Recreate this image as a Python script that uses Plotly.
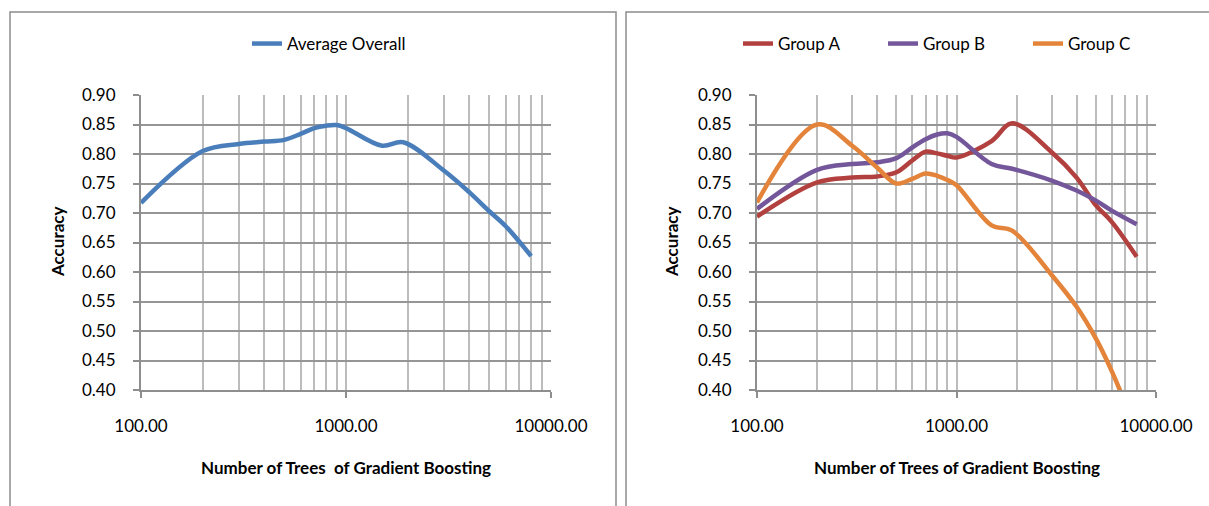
import plotly.graph_objects as go

# ---- data ----
n_trees = [100, 200, 300, 400, 500, 600, 700, 800, 900, 1000, 1500, 1900, 3000, 4000, 5000, 6000, 8000]
avg_overall = [0.717, 0.805, 0.817, 0.821, 0.824, 0.834, 0.844, 0.848, 0.849, 0.844, 0.814, 0.820, 0.772, 0.735, 0.703, 0.678, 0.627]
group_a = [0.694, 0.752, 0.760, 0.762, 0.769, 0.789, 0.804, 0.801, 0.797, 0.794, 0.822, 0.852, 0.803, 0.760, 0.713, 0.685, 0.626]
group_b = [0.707, 0.773, 0.783, 0.786, 0.793, 0.811, 0.825, 0.833, 0.835, 0.829, 0.783, 0.775, 0.755, 0.738, 0.721, 0.704, 0.681]
group_c = [0.718, 0.850, 0.814, 0.777, 0.750, 0.758, 0.767, 0.763, 0.756, 0.747, 0.679, 0.670, 0.595, 0.541, 0.487, 0.432, 0.330]

x_tickvals = [100, 1000, 10000]
x_ticktext = ["100.00", "1000.00", "10000.00"]
minor_vals = [v * d for d in (100, 1000) for v in range(2, 10)]

FONT = "Lato"
FS = 17
W, H = 1209, 506
C_AVG = "#4A7EBB"
C_A = "#B2403E"
C_B = "#74579A"
C_C = "#E3843A"

fig = go.Figure()

def add(y, name, color, xa, ya, legend):
    fig.add_trace(go.Scatter(
        x=n_trees, y=y, name=name, mode="lines",
        line=dict(color=color, width=4.5, shape="spline", smoothing=1.0),
        xaxis=xa, yaxis=ya, legend=legend,
    ))

add(avg_overall, "Average Overall", C_AVG, "x", "y", "legend")
add(group_a, "Group A", C_A, "x2", "y2", "legend2")
add(group_b, "Group B", C_B, "x2", "y2", "legend2")
add(group_c, "Group C", C_C, "x2", "y2", "legend2")

def px_x(p):
    return p / W

def px_y(p):
    return 1 - p / H

xaxis_common = dict(
    type="log", range=[2, 4], automargin=False,
    tickmode="array", tickvals=x_tickvals, ticktext=x_ticktext,
    showgrid=True, gridcolor="#bcbcbc", gridwidth=2,
    minor=dict(tickmode="array", tickvals=minor_vals, showgrid=True,
               gridcolor="#bcbcbc", gridwidth=2, ticks=""),
    showline=True, linecolor="#8e8e8e", linewidth=2,
    ticks="outside", ticklen=6, tickcolor="#8e8e8e", tickwidth=2,
    ticklabelstandoff=14,
    tickfont=dict(family=FONT, size=FS, color="#000000"),
    zeroline=False, fixedrange=True,
)
yaxis_common = dict(
    range=[0.40, 0.90], automargin=False,
    tickmode="linear", tick0=0.40, dtick=0.05, tickformat=".2f",
    showgrid=True, gridcolor="#969696", gridwidth=2,
    showline=True, linecolor="#8e8e8e", linewidth=2,
    ticks="outside", ticklen=6, tickcolor="#8e8e8e", tickwidth=2,
    ticklabelstandoff=14,
    tickfont=dict(family=FONT, size=FS, color="#000000"),
    zeroline=False, fixedrange=True,
)

y_dom = [px_y(390), px_y(95)]

fig.update_layout(
    width=W, height=H,
    margin=dict(l=0, r=0, t=0, b=0, autoexpand=False),
    paper_bgcolor="white", plot_bgcolor="white",
    font=dict(family=FONT, size=FS, color="#000000"),
    xaxis=dict(domain=[px_x(141), px_x(551)], anchor="y", **xaxis_common),
    yaxis=dict(domain=y_dom, anchor="x", **yaxis_common),
    xaxis2=dict(domain=[px_x(757), px_x(1156)], anchor="y2", **xaxis_common),
    yaxis2=dict(domain=y_dom, anchor="x2", **yaxis_common),
    legend=dict(orientation="h", x=px_x(247), xanchor="left", y=px_y(44), yanchor="middle",
                font=dict(family=FONT, size=FS, color="#000000"), bgcolor="rgba(0,0,0,0)"),
    legend2=dict(orientation="h", x=px_x(738), xanchor="left", y=px_y(44), yanchor="middle",
                 entrywidth=100, entrywidthmode="pixels",
                 font=dict(family=FONT, size=FS, color="#000000"), bgcolor="rgba(0,0,0,0)"),
    showlegend=True,
)

# panel borders (open at the cut-off sides)
border = dict(color="#8c8c8c", width=1.5)
fig.add_shape(type="path", xref="paper", yref="paper",
              path="M %f,0 L %f,%f L %f,%f L %f,0" % (px_x(10), px_x(10), px_y(12), px_x(616), px_y(12), px_x(616)),
              line=border)
fig.add_shape(type="path", xref="paper", yref="paper",
              path="M %f,0 L %f,%f L 1,%f" % (px_x(626), px_x(626), px_y(12), px_y(12)),
              line=border)

# axis titles
for cx, text in [(346, "Number of Trees  of Gradient Boosting"), (957, "Number of Trees of Gradient Boosting")]:
    fig.add_annotation(xref="paper", yref="paper", x=px_x(cx), y=px_y(467),
                       text="<b>%s</b>" % text, showarrow=False,
                       xanchor="center", yanchor="middle",
                       font=dict(family=FONT, size=FS, color="#000000"))
for cx in (57, 671):
    fig.add_annotation(xref="paper", yref="paper", x=px_x(cx), y=px_y(242),
                       text="<b>Accuracy</b>", showarrow=False, textangle=-90,
                       xanchor="center", yanchor="middle",
                       font=dict(family=FONT, size=FS, color="#000000"))

fig.write_html("out.html", config={"displayModeBar": False},
               post_script="document.body.style.margin='0';document.body.style.overflow='hidden';")
